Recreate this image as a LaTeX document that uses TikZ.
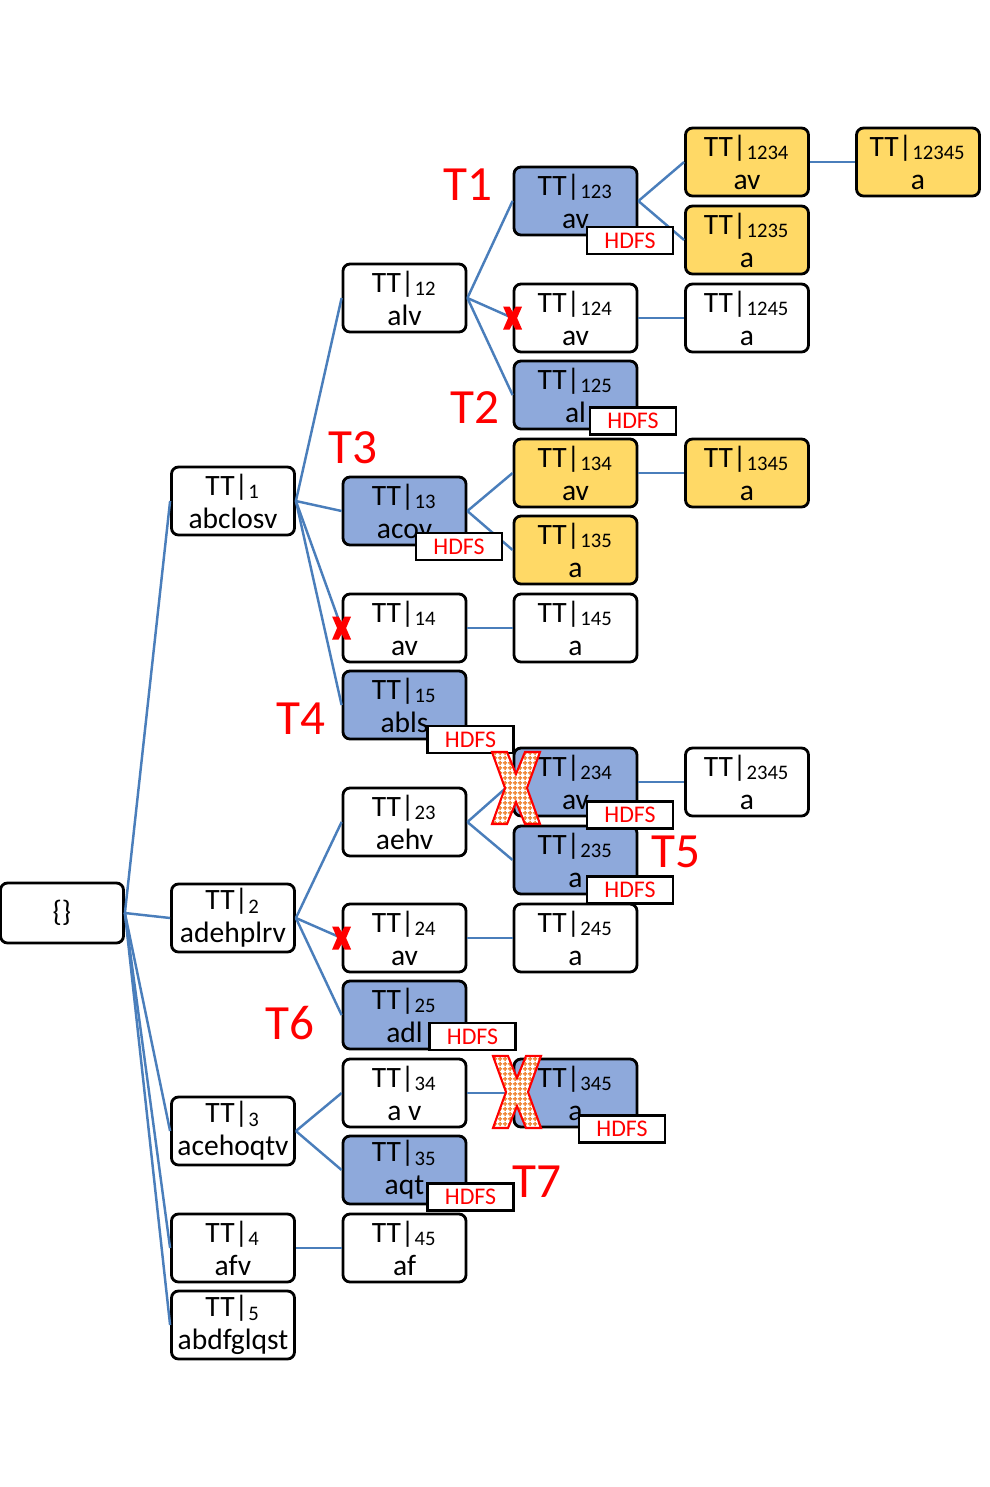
\documentclass[tikz,border=0pt]{standalone}
\usepackage{fontspec}
\setmainfont{Carlito}
\usetikzlibrary{patterns.meta}
\definecolor{setblue}{HTML}{8EA9DB}
\definecolor{setyellow}{HTML}{FFD966}
\definecolor{linkblue}{HTML}{4A7EBB}
\definecolor{gridorange}{HTML}{F08A3C}

\tikzdeclarepattern{
  name=finegrid,
  type=uncolored,
  bounding box={(0pt,0pt) and (1.3pt,1.3pt)},
  tile size={(1.3pt,1.3pt)},
  code={\draw[line width=0.45pt] (0pt,0.65pt) -- (1.3pt,0.65pt) (0.65pt,0pt) -- (0.65pt,1.3pt);}
}

\begin{document}
\begin{tikzpicture}[x=0.1mm, y=-0.1mm,
  set/.style={draw, line width=0.8pt, rounded corners=2pt, minimum width=12.3mm,
    minimum height=6.8mm, inner sep=0pt, align=center, font=\fontsize{8.4}{9.4}\selectfont},
  blueset/.style={set, fill=setblue},
  yellowset/.style={set, fill=setyellow},
  link/.style={linkblue, line width=0.7pt},
  hdfs/.style={draw, fill=white, text=red, line width=0.7pt, minimum width=8.6mm,
    minimum height=2.7mm, inner sep=0pt, font=\fontsize{6.8}{8}\selectfont},
  tag/.style={text=red, inner sep=0pt, font=\fontsize{14}{16}\selectfont},
  bigcross/.pic={\draw[red, line width=0.6pt, preaction={fill=white}, pattern=finegrid,
    pattern color=gridorange] (-24,-36) -- (-9,-36) -- (0,-14) -- (9,-36) -- (24,-36)
    -- (11,0) -- (24,36) -- (9,36) -- (0,14) -- (-9,36) -- (-24,36) -- (-11,0) -- cycle;},
  smallcross/.pic={\fill[red] (-9.5,-11.5) -- (-3,-11.5) -- (0,-6) -- (3,-11.5) -- (9.5,-11.5)
    -- (4.5,0) -- (9.5,11.5) -- (3,11.5) -- (0,6) -- (-3,11.5) -- (-9.5,11.5) -- (-4.5,0) -- cycle;}]

  \useasboundingbox (0,0) rectangle (990,1487);

  % Define the set nodes
  \node[set, minimum height=6mm] (root) at (62,913) {\{\}};
  \node[set] (v1) at (233,501) {TT|\textsubscript{1}\\abclosv};
  \node[set] (v2) at (233,918) {TT|\textsubscript{2}\\adehplrv};
  \node[set] (v3) at (233,1131) {TT|\textsubscript{3}\\acehoqtv};
  \node[set] (v4) at (233,1248) {TT|\textsubscript{4}\\afv};
  \node[set] (v5) at (233,1325) {TT|\textsubscript{5}\\abdfglqst};

  \node[set] (v12) at (404.5,298) {TT|\textsubscript{12}\\alv};
  \node[blueset] (v13) at (404.5,511) {TT|\textsubscript{13}\\acov};
  \node[set] (v14) at (404.5,628) {TT|\textsubscript{14}\\av};
  \node[blueset] (v15) at (404.5,705) {TT|\textsubscript{15}\\abls};
  \node[set] (v23) at (404.5,822) {TT|\textsubscript{23}\\aehv};
  \node[set] (v24) at (404.5,938) {TT|\textsubscript{24}\\av};
  \node[blueset] (v25) at (404.5,1015) {TT|\textsubscript{25}\\adl};
  \node[set] (v34) at (404.5,1093) {TT|\textsubscript{34}\\a v};
  \node[blueset] (v35) at (404.5,1170) {TT|\textsubscript{35}\\aqt};
  \node[set] (v45) at (404.5,1248) {TT|\textsubscript{45}\\af};

  \node[blueset] (v123) at (575.5,201) {TT|\textsubscript{123}\\av};
  \node[set] (v124) at (575.5,318) {TT|\textsubscript{124}\\av};
  \node[blueset] (v125) at (575.5,395) {TT|\textsubscript{125}\\al};
  \node[yellowset] (v134) at (575.5,473) {TT|\textsubscript{134}\\av};
  \node[yellowset] (v135) at (575.5,550) {TT|\textsubscript{135}\\a};
  \node[set] (v145) at (575.5,628) {TT|\textsubscript{145}\\a};
  \node[blueset] (v234) at (575.5,782) {TT|\textsubscript{234}\\av};
  \node[blueset] (v235) at (575.5,860) {TT|\textsubscript{235}\\a};
  \node[set] (v245) at (575.5,938) {TT|\textsubscript{245}\\a};
  \node[blueset] (v345) at (575.5,1093) {TT|\textsubscript{345}\\a};

  \node[yellowset] (v1234) at (747,162) {TT|\textsubscript{1234}\\av};
  \node[yellowset] (v1235) at (747,240) {TT|\textsubscript{1235}\\a};
  \node[set] (v1245) at (747,318) {TT|\textsubscript{1245}\\a};
  \node[yellowset] (v1345) at (747,473) {TT|\textsubscript{1345}\\a};
  \node[set] (v2345) at (747,782) {TT|\textsubscript{2345}\\a};

  \node[yellowset] (v12345) at (918,162) {TT|\textsubscript{12345}\\a};

  % Draw the links
  \foreach \a/\b in {root/v1, root/v2, root/v3, root/v4, root/v5,
      v1/v12, v1/v13, v1/v14, v1/v15, v2/v23, v2/v24, v2/v25, v3/v34, v3/v35, v4/v45,
      v12/v123, v12/v124, v12/v125, v13/v134, v13/v135, v14/v145,
      v23/v234, v23/v235, v24/v245, v34/v345,
      v123/v1234, v123/v1235, v124/v1245, v134/v1345, v234/v2345, v1234/v12345}
    \draw[link] (\a.east) -- (\b.west);

  % HDFS boxes
  \node[hdfs] (h123) at (630,240.5) {HDFS};
  \node[hdfs] (h125) at (633,421) {HDFS};
  \node[hdfs] (h13) at (459,546.5) {HDFS};
  \node[hdfs] (h15) at (470.5,739.5) {HDFS};
  \node[hdfs] (h234) at (630,815) {HDFS};
  \node[hdfs] (h235) at (630,890) {HDFS};
  \node[hdfs] (h25) at (472.5,1036.5) {HDFS};
  \node[hdfs] (h345) at (622,1129) {HDFS};
  \node[hdfs] (h35) at (470.5,1197) {HDFS};

  % Tags
  \node[tag] (t1) at (468,185) {T1};
  \node[tag] (t2) at (475,408) {T2};
  \node[tag] (t3) at (353,448) {T3};
  \node[tag] (t4) at (301,719) {T4};
  \node[tag] (t5) at (676,852) {T5};
  \node[tag] (t6) at (290,1023) {T6};
  \node[tag] (t7) at (537,1182) {T7};

  % Pruned branches
  \pic at (v124.west) {smallcross};
  \pic at (v14.west) {smallcross};
  \pic at (v24.west) {smallcross};
  \pic at (516,788) {bigcross};
  \pic at (517,1092) {bigcross};
\end{tikzpicture}
\end{document}
